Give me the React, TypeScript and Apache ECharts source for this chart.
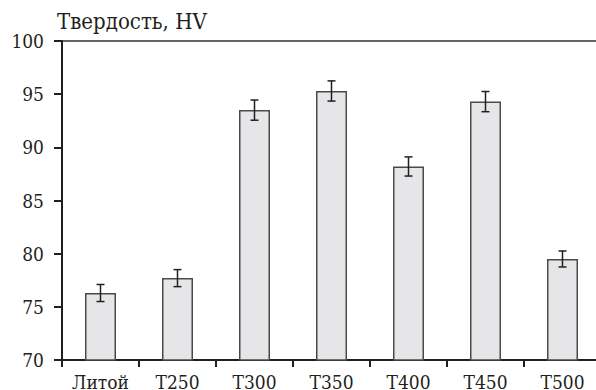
import React, { useEffect, useRef } from "react";
import * as echarts from "echarts";

const categories = ["Литой", "Т250", "Т300", "Т350", "Т400", "Т450", "Т500"];
const hardness = [76.3, 77.7, 93.5, 95.3, 88.2, 94.3, 79.5];
const errors = [0.8, 0.8, 0.95, 0.95, 0.9, 0.95, 0.75];
const yTicks = { min: 70, max: 100, interval: 5 };
const titleText = "Твердость, HV";

const FONT = "'DejaVu Serif Condensed', 'DejaVu Serif', serif";
const INK = "#231f20";

export default function App() {
  const ref = useRef<HTMLDivElement>(null);
  useEffect(() => {
    if (!ref.current) return;
    const chart = echarts.init(ref.current, null, { renderer: "svg" });
    const errData = hardness.map((v, i) => [i, v - errors[i], v + errors[i]]);
    chart.setOption({
      animation: false,
      backgroundColor: "#ffffff",
      textStyle: { fontFamily: FONT },
      title: {
        text: titleText,
        left: 57,
        top: 10,
        padding: 0,
        textStyle: { fontFamily: FONT, fontSize: 22, fontWeight: "normal", color: INK },
      },
      grid: {
        left: 62,
        top: 41,
        bottom: 30,
        right: -5,
        show: true,
        borderColor: "#333333",
        borderWidth: 1.5,
        outerBoundsMode: "none",
        containLabel: false,
      },
      xAxis: {
        type: "category",
        data: categories,
        axisLine: { lineStyle: { color: INK, width: 2 } },
        axisTick: { show: true, length: 7, lineStyle: { color: INK, width: 2 }, alignWithLabel: false },
        axisLabel: { fontFamily: FONT, fontSize: 19, color: INK, margin: 12, interval: 0 },
        splitLine: { show: false },
      },
      yAxis: {
        type: "value",
        min: yTicks.min,
        max: yTicks.max,
        interval: yTicks.interval,
        axisLine: { show: true, lineStyle: { color: INK, width: 2 } },
        axisTick: { show: true, length: 8, lineStyle: { color: INK, width: 2 } },
        axisLabel: { fontFamily: FONT, fontSize: 19, color: INK, margin: 18 },
        splitLine: { show: false },
      },
      series: [
        {
          type: "bar",
          data: hardness,
          barWidth: 31,
          itemStyle: { color: "#e6e6e8", borderColor: "#4a4a4a", borderWidth: 1.5 },
        },
        {
          type: "custom",
          data: errData,
          z: 10,
          renderItem: (params: any, api: any) => {
            const x = api.value(0);
            const lo = api.coord([x, api.value(1)]);
            const hi = api.coord([x, api.value(2)]);
            const hw = 4;
            const style = { stroke: INK, lineWidth: 1.5, fill: "none" };
            return {
              type: "group",
              children: [
                { type: "line", shape: { x1: lo[0], y1: lo[1], x2: hi[0], y2: hi[1] }, style },
                { type: "line", shape: { x1: lo[0] - hw, y1: lo[1], x2: lo[0] + hw, y2: lo[1] }, style },
                { type: "line", shape: { x1: hi[0] - hw, y1: hi[1], x2: hi[0] + hw, y2: hi[1] }, style },
              ],
            };
          },
        },
      ],
    });
    return () => chart.dispose();
  }, []);
  return (
    <div
      ref={ref}
      style={{ position: "absolute", left: 0, top: 0, width: 596, height: 390, overflow: "hidden" }}
    />
  );
}
